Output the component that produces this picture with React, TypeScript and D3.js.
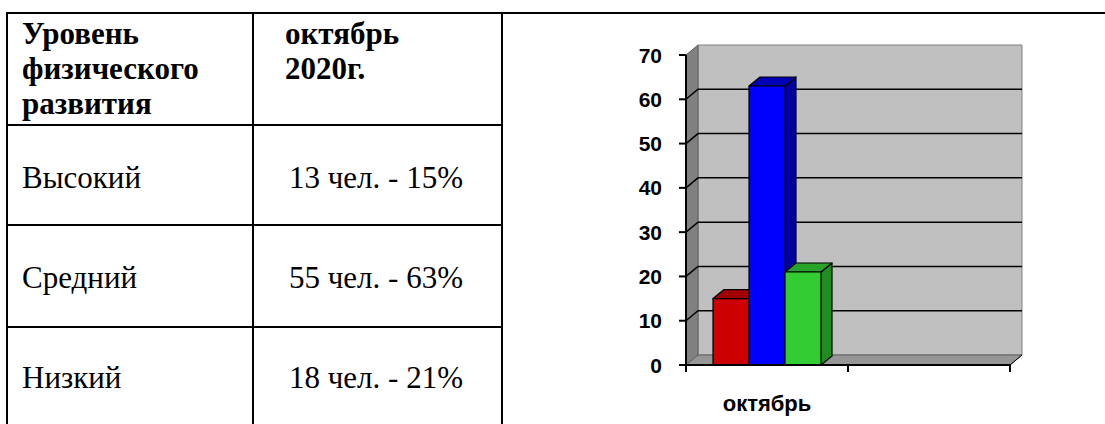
import React from "react";
import * as d3 from "d3";

const headerCol1 = ["Уровень", "физического", "развития"];
const headerCol2 = ["октябрь", "2020г."];
const levels = ["Высокий", "Средний", "Низкий"];
const counts = ["13 чел. - 15%", "55 чел. - 63%", "18 чел. - 21%"];

const categories = ["октябрь", ""];
const seriesValues = [15, 63, 21];
const seriesColors = [
  { front: "#CC0000", top: "#A00000", side: "#8A0000" },
  { front: "#0000FF", top: "#0000B8", side: "#0000A0" },
  { front: "#33CC33", top: "#29A329", side: "#228B22" },
];
const yTicks = [0, 10, 20, 30, 40, 50, 60, 70];

const SERIF = '"Liberation Serif", "Times New Roman", Tinos, "DejaVu Serif", serif';
const SANS = '"Liberation Sans", Arial, Arimo, sans-serif';

export default function App() {
  const W = 1105, H = 424;
  const tL = 7, tC = 253, tR = 502, tTop = 13;
  const rowLines = [125, 225, 327];
  const rowBaselines = [188, 288, 388];

  const y = d3.scaleLinear().domain([0, 70]).range([365, 55]);
  const x = d3.scaleBand<string>().domain(categories).range([686, 1010]);
  const dx = 12, dy = -10;
  const bx = d3.scaleBand<number>().domain(d3.range(seriesValues.length)).range([0, 108]);
  const left = x.range()[0], right = x.range()[1];
  const y0 = y(0), yTop = y(70);
  const bw = bx.bandwidth();
  const bdx = 11, bdy = -9;
  const pts = (a: number[][]) => a.map((p) => p.join(",")).join(" ");

  return (
    <svg width={W} height={H} style={{ position: "absolute", left: 0, top: 0, background: "#fff" }}>
      <g stroke="#000" strokeWidth={2}>
        <line x1={tL - 1} x2={W} y1={tTop} y2={tTop} />
        <line x1={tL} x2={tL} y1={tTop} y2={H} />
        <line x1={tC} x2={tC} y1={tTop} y2={H} />
        <line x1={tR} x2={tR} y1={tTop} y2={H} />
        {rowLines.map((r) => (
          <line key={r} x1={tL} x2={tR} y1={r} y2={r} />
        ))}
      </g>
      <g style={{ fontFamily: SERIF, fontSize: "31px" }} fill="#000">
        {headerCol1.map((t, i) => (
          <text key={t} x={22} y={44 + i * 35} fontWeight="bold">{t}</text>
        ))}
        {headerCol2.map((t, i) => (
          <text key={t} x={285} y={44 + i * 35} fontWeight="bold">{t}</text>
        ))}
        {levels.map((t, i) => (
          <text key={t} x={22} y={rowBaselines[i]}>{t}</text>
        ))}
        {counts.map((t, i) => (
          <text key={t} x={289} y={rowBaselines[i]}>{t}</text>
        ))}
      </g>

      <polygon points={pts([[left + dx, yTop + dy], [right + dx, yTop + dy], [right + dx, y0 + dy], [left + dx, y0 + dy]])} fill="#C0C0C0" stroke="#808080" strokeWidth={1} />
      <polygon points={pts([[left, yTop], [left + dx, yTop + dy], [left + dx, y0 + dy], [left, y0]])} fill="#808080" stroke="#606060" strokeWidth={1} />
      <polygon points={pts([[left, y0], [left + dx, y0 + dy], [right + dx, y0 + dy], [right, y0]])} fill="#969696" stroke="#606060" strokeWidth={1} />
      <g stroke="#000" strokeWidth={1.5} fill="none">
        {yTicks.filter((v) => v > 0 && v < 70).map((v) => (
          <polyline key={v} points={pts([[left, y(v)], [left + dx, y(v) + dy], [right + dx, y(v) + dy]])} />
        ))}
      </g>
      {seriesValues.map((v, i) => {
        const x0 = (x(categories[0]) as number) + (x.bandwidth() - 108) / 2 + (bx(i) as number);
        const x1 = x0 + bw;
        const yt = y(v);
        const c = seriesColors[i];
        return (
          <g key={i} stroke="#000" strokeWidth={1.2} strokeLinejoin="round">
            <polygon points={pts([[x1, yt], [x1 + bdx, yt + bdy], [x1 + bdx, y0 + bdy], [x1, y0]])} fill={c.side} />
            <polygon points={pts([[x0, yt], [x0 + bdx, yt + bdy], [x1 + bdx, yt + bdy], [x1, yt]])} fill={c.top} />
            <rect x={x0} y={yt} width={bw} height={y0 - yt} fill={c.front} />
          </g>
        );
      })}
      <g stroke="#000" strokeWidth={2}>
        <line x1={left} x2={left} y1={yTop} y2={y0} />
        <line x1={left} x2={right} y1={y0} y2={y0} />
        <line x1={right} x2={right + dx} y1={y0} y2={y0 + dy} strokeWidth={1} />
        {yTicks.map((v) => (
          <line key={v} x1={left - 7} x2={left} y1={y(v)} y2={y(v)} />
        ))}
        {[left, left + x.bandwidth(), right].map((t) => (
          <line key={t} x1={t} x2={t} y1={y0} y2={y0 + 7} />
        ))}
      </g>
      <g style={{ fontFamily: SANS, fontSize: "21px", fontWeight: "bold" }} fill="#000" textAnchor="end">
        {yTicks.map((v) => (
          <text key={v} x={662} y={y(v)} dy="0.36em">{v}</text>
        ))}
      </g>
      <text x={(x(categories[0]) as number) + x.bandwidth() / 2} y={411} textAnchor="middle" style={{ fontFamily: SANS, fontSize: "22px", fontWeight: "bold" }} fill="#000">
        {categories[0]}
      </text>
    </svg>
  );
}
